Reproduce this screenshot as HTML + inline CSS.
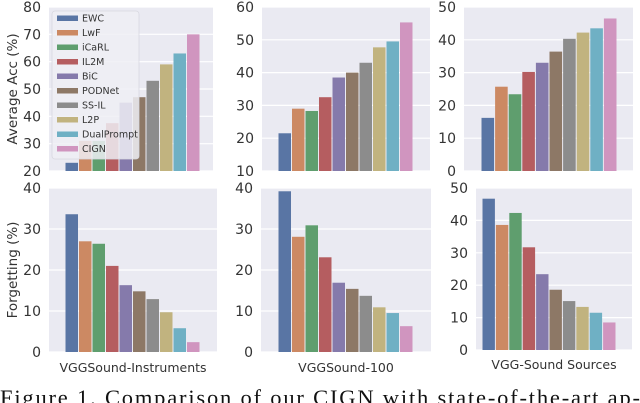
<!DOCTYPE html>
<html><head><meta charset="utf-8">
<style>
html,body{margin:0;padding:0;background:#fff;}
svg{display:block;}
text{font-family:"DejaVu Sans","Liberation Sans",sans-serif;}
</style></head>
<body>
<svg id="fig" width="640" height="403" viewBox="0 0 640 403" xmlns="http://www.w3.org/2000/svg"></svg>
<script>
const methods = ["EWC","LwF","iCaRL","IL2M","BiC","PODNet","SS-IL","L2P","DualPrompt","CIGN"];
const colors = ["#5975a4","#cc8963","#5f9e6e","#b55d60","#857aab","#8d7866","#8c8c8c","#c1b37f","#6fb0c4","#d095bf"];
const accInstruments = [23,31,31,37.5,45,47,53,59,63,70];
const acc100 = [21.5,29,28.3,32.5,38.5,40,43,47.7,49.5,55.3];
const accSources = [16.2,25.7,23.4,30.2,33,36.4,40.3,42.2,43.5,46.5];
const fgtInstruments = [33.6,27,26.4,21,16.3,14.8,12.9,9.7,5.8,2.4];
const fgt100 = [39.2,28.1,30.9,23.1,16.9,15.4,13.7,10.9,9.5,6.3];
const fgtSources = [46.7,38.6,42.3,31.7,23.4,18.6,15.1,13.3,11.5,8.5];
const ticksAcc1 = [20,30,40,50,60,70,80];
const ticksAcc2 = [10,20,30,40,50,60];
const ticksAcc3 = [0,10,20,30,40,50];
const ticksFgt1 = [0,10,20,30,40];
const ticksFgt2 = [0,10,20,30,40];
const ticksFgt3 = [0,10,20,30,40,50];
const datasetNames = ["VGGSound-Instruments","VGGSound-100","VGG-Sound Sources"];

const NS="http://www.w3.org/2000/svg";
const svg=document.getElementById('fig');
function mk(tag,attrs,parent){const e=document.createElementNS(NS,tag);for(const k in attrs)e.setAttribute(k,attrs[k]);(parent||svg).appendChild(e);return e;}

const panels=[
 {id:"acc-instruments",vals:accInstruments,ticks:ticksAcc1,bx0:49,bx1:213,by0:7,by1:171,b0:65,b1:200,label:null},
 {id:"acc-100",vals:acc100,ticks:ticksAcc2,bx0:262,bx1:430,by0:7,by1:171,b0:278,b1:413,label:null},
 {id:"acc-sources",vals:accSources,ticks:ticksAcc3,bx0:464,bx1:633,by0:7,by1:171,b0:481,b1:617,label:null},
 {id:"fgt-instruments",vals:fgtInstruments,ticks:ticksFgt1,bx0:49,bx1:217,by0:188,by1:352,b0:65,b1:200,label:datasetNames[0],ly:372},
 {id:"fgt-100",vals:fgt100,ticks:ticksFgt2,bx0:261,bx1:431,by0:188,by1:352,b0:278,b1:413,label:datasetNames[1],ly:372},
 {id:"fgt-sources",vals:fgtSources,ticks:ticksFgt3,bx0:476,bx1:632,by0:188,by1:350,b0:482,b1:616,label:datasetNames[2],ly:369}
];

panels.forEach(p=>{
  const g=mk('g',{});
  
  
  const bg=mk('rect',{x:p.bx0,y:p.by0,width:p.bx1-p.bx0,height:p.by1-p.by0,fill:"#eaeaf2"},g);
  
  
  const tmin=p.ticks[0],tmax=p.ticks[p.ticks.length-1];
  const y=v=>p.by1-(v-tmin)/(tmax-tmin)*(p.by1-p.by0);
  p.ticks.forEach(t=>{
    const gl=mk('line',{x1:p.bx0,x2:p.bx1,y1:y(t),y2:y(t),stroke:"#fff","stroke-width":1.2},g);
    
    
    const tl=mk('text',{x:p.bx0-8,y:y(t)+5,"text-anchor":"end","font-size":"14",fill:"#333"},g);
    
    
    tl.textContent=t;
  });
  const bw=(p.b1-p.b0)/p.vals.length;
  p.vals.forEach((v,i)=>{
    const r=mk('rect',{x:p.b0+i*bw+0.5,y:y(v),width:bw-1,height:y(tmin)-y(v),fill:colors[i]},g);
    
    
  });
  if(p.label){
    const xl=mk('text',{x:(p.bx0+p.bx1)/2,y:p.ly,"text-anchor":"middle","font-size":"12.5",fill:"#333"},g);
    
    
    xl.textContent=p.label;
  }
});

const t1=mk('text',{x:0,y:0,"text-anchor":"middle","font-size":"13.5",fill:"#333",transform:"translate(17,89) rotate(-90)"});


t1.textContent="Average Acc (%)";
const t2=mk('text',{x:0,y:0,"text-anchor":"middle","font-size":"13.5",fill:"#333",transform:"translate(17,270) rotate(-90)"});


t2.textContent="Forgetting (%)";

const lg=mk('g',{});


mk('rect',{x:52,y:11,width:87,height:148,rx:3,fill:"#eeeef5","fill-opacity":0.85,stroke:"#d8d8e0","stroke-width":0.8},lg);
methods.forEach((m,i)=>{
  const yy=18+i*14.5;
  const e=mk('g',{},lg);
  
  
  mk('rect',{x:57,y:yy-2.5,width:21,height:5.5,fill:colors[i]},e);
  const tx=mk('text',{x:82,y:yy+3.5,"font-size":"9.5",fill:"#333"},e);
  tx.textContent=m;
});

const cap=mk('text',{x:0,y:405,"font-size":"22.5",fill:"#111",textLength:"640",lengthAdjust:"spacing"});
cap.setAttribute('style','font-family:"Liberation Serif",serif;');


cap.textContent="Figure 1. Comparison of our CIGN with state-of-the-art ap-";
</script>
</body></html>
